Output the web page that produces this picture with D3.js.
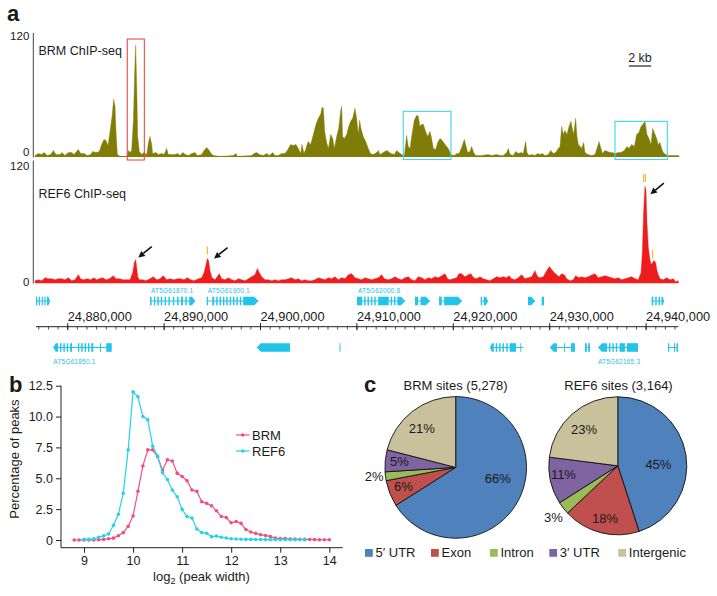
<!DOCTYPE html>
<html><head><meta charset="utf-8">
<script src="https://cdn.jsdelivr.net/npm/d3@7"></script>
<style>
body{margin:0;background:#fff}
svg{display:block}
text{font-family:"Liberation Sans",Arial,Helvetica,sans-serif;fill:#1a1a1a}
</style>
</head><body>
<svg id="c" width="717" height="596"></svg>
<script>
// ================= DATA =================
// Panel a: genomic positions are kb counted from 24,800,000 on chromosome 5
const regionOriginKb = 24800;
const trackRangeKb = [76.71, 143.34];
const trackMax = 120;

const brmPosKb = [76.61,76.95,77.30,77.54,77.89,78.23,78.51,78.79,79.20,79.41,79.69,80.07,80.41,80.65,81.10,81.34,81.69,82.04,82.38,82.59,82.93,83.28,83.52,83.76,83.97,84.18,84.39,84.60,84.77,84.91,85.01,85.15,85.43,86.12,86.29,86.46,86.63,86.81,86.95,87.05,87.16,87.26,87.43,87.67,87.91,88.19,88.40,88.54,88.71,88.81,89.16,89.40,89.75,89.99,90.27,90.44,90.78,91.13,91.41,91.65,91.93,92.20,92.55,92.86,93.21,93.45,93.90,94.14,94.42,94.69,94.86,95.11,95.80,97.18,97.46,97.60,99.08,99.33,99.60,99.88,100.29,100.64,100.92,101.26,101.50,101.85,102.20,102.54,102.78,103.13,103.40,103.68,103.92,104.17,104.30,104.51,104.72,104.93,105.20,105.48,105.76,106.00,106.24,106.38,106.52,106.66,106.86,107.04,107.28,107.49,107.66,107.90,108.11,108.32,108.42,108.52,108.70,108.94,109.15,109.35,109.56,
109.80,109.97,110.15,110.28,110.42,110.66,110.91,111.18,111.39,111.70,112.05,112.22,112.39,112.74,113.08,113.26,113.53,113.88,114.12,114.36,114.64,114.92,115.16,115.33,115.51,115.68,115.95,116.20,116.37,116.54,116.72,116.89,117.13,117.34,117.58,117.75,117.93,118.17,118.38,118.62,118.86,119.14,119.48,119.76,120.10,120.35,120.59,120.87,121.14,121.28,121.49,121.73,121.90,122.11,122.32,122.94,123.63,123.98,124.50,124.84,125.19,125.53,125.71,125.88,126.22,126.47,126.74,127.02,127.26,127.50,127.64,127.85,128.13,128.47,128.75,128.99,129.23,129.51,129.86,130.10,130.37,130.62,130.89,131.07,131.24,131.41,131.58,131.79,132.00,132.21,132.34,132.48,132.69,132.83,132.97,133.17,133.31,133.52,133.66,133.94,134.35,134.70,134.97,135.11,135.32,135.46,135.73,136.01,136.25,136.49,136.77,137.12,137.39,137.74,138.02,138.22,138.50,138.78,139.02,139.26,139.47,139.68,139.88,140.09,140.30,140.51,140.68,140.85,141.09,141.27,141.44,141.61,141.78,142.03,142.30,143.40];
const brmVal = [1,3,2,4,1,2,6,2,2,4,1,4,4,2,7,3,3,1,2,5,4,5,12,17,16,11,25,40,57,50,25,2,0,0,6,4,6,35,85,111,70,20,5,2,4,2,15,20,12,3,4,2,3,2,8,2,2,2,3,1,4,2,1,3,4,1,2,6,9,6,3,1,0,1,3,0,1,3,4,2,1,3,1,4,1,1,3,3,6,12,11,12,8,3,12,3,8,15,12,22,32,38,42,49,48,25,14,8,22,18,8,20,28,46,50,20,18,22,30,35,38,
48,38,22,36,28,20,15,8,3,2,4,6,2,4,6,5,3,2,6,4,2,1,21,10,8,20,36,41,40,30,32,32,25,20,25,18,8,7,14,18,16,12,8,2,1,3,3,9,17,12,4,5,10,4,1,1,2,1,2,1,1,4,8,2,1,5,3,4,3,15,4,1,2,1,3,2,3,1,2,6,3,4,8,10,30,22,26,22,30,35,28,22,38,20,12,10,8,14,4,2,1,2,10,15,8,3,6,5,4,4,3,4,4,6,10,8,12,10,22,24,30,32,35,22,18,12,28,24,18,12,14,8,4,2,1,1];

const ref6PosKb = [76.61,76.95,77.30,77.64,77.99,78.34,78.68,79.03,79.37,79.72,80.07,80.41,80.76,81.10,81.34,81.62,82.04,82.38,82.73,83.00,83.28,83.63,83.97,84.32,84.73,85.01,85.36,85.77,86.12,86.46,86.74,86.91,87.05,87.16,87.26,87.43,87.78,88.12,88.54,88.88,89.23,89.57,89.92,90.27,90.61,91.03,91.37,91.72,92.06,92.41,92.76,93.10,93.55,93.90,94.14,94.35,94.48,94.62,94.76,94.97,95.28,95.73,95.97,96.32,96.66,97.01,97.35,97.70,98.05,98.39,98.74,99.08,99.43,99.67,99.88,100.12,100.47,100.81,101.16,101.50,101.85,102.20,102.54,102.89,103.23,103.58,103.92,104.27,104.61,104.96,105.31,105.65,106.00,106.34,106.69,107.04,107.38,107.73,108.07,108.42,108.77,109.11,109.46,
109.80,110.15,110.49,110.84,111.18,111.53,111.87,112.22,112.57,112.84,113.26,113.60,113.95,114.30,114.64,114.99,115.33,115.68,116.02,116.37,116.72,117.06,117.41,117.75,118.10,118.44,118.79,119.14,119.41,119.65,120.00,120.35,120.59,120.87,121.21,121.56,121.83,122.11,122.42,122.77,123.11,123.46,123.80,124.15,124.50,124.84,125.19,125.53,125.78,126.05,126.40,126.74,127.09,127.43,127.78,128.13,128.47,128.75,128.99,129.34,129.68,129.96,130.20,130.48,130.72,130.96,131.24,131.51,131.76,132.10,132.45,132.69,133.04,133.31,133.66,134.00,134.42,134.70,135.04,135.39,135.73,136.08,136.42,136.77,137.12,137.46,137.81,138.15,138.50,138.85,139.19,139.47,139.61,139.74,139.88,139.99,140.09,140.23,140.37,140.51,140.68,140.82,140.99,141.13,141.27,141.44,141.78,142.13,142.48,142.82,143.06,143.34];
const ref6Val = [2,3,2,5,4,4,3,4,4,3,5,2,3,8,4,3,4,3,5,3,4,5,3,4,7,4,4,3,3,3,10,20,23,15,6,3,3,2,4,6,3,4,7,3,4,3,4,4,3,5,3,2,4,5,10,18,24,22,12,5,3,9,4,3,5,3,2,4,3,2,4,6,8,14,10,6,3,3,2,3,2,3,3,4,5,3,4,2,3,2,2,3,5,4,3,5,4,6,3,5,4,8,9,
5,4,3,5,4,3,4,5,8,4,3,4,6,4,3,5,6,3,2,6,5,3,5,4,6,5,7,9,4,3,4,5,9,9,6,8,9,5,4,6,4,3,2,4,6,5,6,5,7,4,3,5,8,4,5,6,12,6,5,6,12,16,13,10,8,6,9,8,4,2,3,7,5,6,5,6,8,9,5,6,7,6,5,4,5,3,4,5,6,4,3,10,30,70,96,92,60,35,25,18,20,22,20,12,8,4,3,5,3,4,1,2];

// highlighted windows in BRM track [startKb, endKb, topValue]
const brmRedBox = [86.18, 87.95, 117];
const brmCyanBoxes = [[114.81, 119.76, 45], [136.77, 142.20, 35]];
// REF6 peak arrows: tip [kb, value]
const ref6ArrowTips = [[87.32, 25], [95.18, 24], [140.44, 88]];
// REF6 orange peak-call marks [kb, lowValue, highValue]
const ref6Marks = [[94.48, 28, 36], [139.75, 100, 108], [139.92, 100, 108], [140.68, 24, 33]];

const rulerMajorKb = [80, 90, 100, 110, 120, 130, 140];
const rulerLabels = ["24,880,000","24,890,000","24,900,000","24,910,000","24,920,000","24,930,000","24,940,000"];

// gene models: row (top = + strand, bottom = - strand), exons in kb
const genes = [
  {row:"top", name:"", start:76.71, end:78.16, exons:[[76.71,76.85],[77.0,77.12],[77.3,77.42],[77.58,77.7],[77.85,78.16]]},
  {row:"top", name:"AT5G61870.1", start:88.54, end:93.21, exons:[[88.54,88.7],[88.95,89.08],[89.3,89.45],[89.65,89.8],[90.05,90.2],[90.45,90.6],[90.9,91.05],[91.35,91.5],[91.75,91.95],[92.2,92.35],[92.6,93.21]]},
  {row:"top", name:"AT5G61900.1", start:94.42, end:99.77, exons:[[94.42,94.55],[95.0,95.2],[95.4,95.55],[95.75,95.9],[96.1,96.25],[96.45,96.6],[96.8,96.95],[97.15,97.3],[97.5,97.65],[97.85,98.0],[98.2,99.77]]},
  {row:"top", name:"AT5G62000.8", start:110.01, end:114.99, exons:[[110.01,110.55],[110.75,110.9],[111.1,111.25],[111.45,111.6],[111.8,111.95],[112.2,113.3],[113.5,113.65],[113.85,114.0],[114.2,114.99]]},
  {row:"top", name:"", start:116.03, end:117.58, exons:[[116.03,116.35],[116.6,117.58]]},
  {row:"top", name:"", start:118.52, end:120.90, exons:[[118.52,118.8],[119.05,120.90]]},
  {row:"top", name:"", start:122.84, end:123.60, exons:[[122.84,122.98],[123.15,123.6]]},
  {row:"top", name:"", start:127.75, end:128.47, exons:[[127.75,128.47]]},
  {row:"top", name:"", start:129.17, end:129.41, exons:[[129.17,129.41]]},
  {row:"top", name:"", start:140.58, end:141.86, exons:[[140.58,140.75],[140.95,141.1],[141.3,141.45],[141.6,141.86]]},
  {row:"bottom", name:"AT5G61850.1", start:78.51, end:84.56, exons:[[78.51,79.0],[79.2,79.35],[79.55,79.7],[79.9,80.05],[80.25,80.45],[81.05,81.2],[81.4,81.55],[81.75,81.9],[82.1,82.25],[82.45,82.65],[83.35,83.45],[84.0,84.56]]},
  {row:"bottom", name:"", start:99.61, end:103.06, exons:[[99.61,103.06]]},
  {row:"bottom", name:"", start:108.2, end:108.26, exons:[[108.2,108.26]]},
  {row:"bottom", name:"", start:123.81, end:127.26, exons:[[123.81,124.2],[124.4,124.55],[124.75,124.9],[125.1,125.25],[125.5,125.65],[125.85,126.5],[126.95,127.0]]},
  {row:"bottom", name:"", start:130.03, end:132.62, exons:[[130.03,130.75],[131.5,131.6],[132.2,132.62]]},
  {row:"bottom", name:"", start:133.66, end:134.18, exons:[[133.66,133.85],[134.0,134.18]]},
  {row:"bottom", name:"AT5G62165.3", start:135.01, end:139.16, exons:[[135.01,135.95],[136.15,136.3],[136.5,136.65],[136.85,137.0],[137.25,137.8],[138.0,139.16]]},
  {row:"bottom", name:"", start:142.27, end:143.31, exons:[[142.27,142.4],[142.9,143.0],[143.15,143.31]]}
];

// Panel b
const log2Width = [8.8,8.9,9.0,9.1,9.2,9.3,9.4,9.5,9.6,9.7,9.8,9.9,10.0,10.1,10.2,10.3,10.4,10.5,10.6,10.7,10.8,10.9,11.0,11.1,11.2,11.3,11.4,11.5,11.6,11.7,11.8,11.9,12.0,12.1,12.2,12.3,12.4,12.5,12.6,12.7,12.8,12.9,13.0,13.1,13.2,13.3,13.4,13.5,13.6,13.7,13.8,13.9,14.0];
const brmPct = [0,0,0,0,0,0.02,0.05,0.1,0.15,0.35,0.6,1.1,1.95,3.95,6.0,7.3,7.3,6.75,5.65,6.5,6.4,5.4,5.15,4.8,4.05,3.95,3.1,2.97,2.78,2.37,1.9,1.82,1.4,1.5,1.35,0.85,0.65,0.54,0.42,0.37,0.28,0.15,0.12,0.12,0.08,0.08,0.06,0.05,0.04,0.03,0.02,0.02,0.02];
const ref6Pct = [null,null,0.05,0.05,0.1,0.22,0.34,0.48,1.2,2.08,3.78,7.3,12.0,11.6,10.0,9.75,7.6,6.8,5.45,4.9,4.05,3.5,2.48,1.9,1.78,0.9,0.6,0.55,0.27,0.32,0.22,0.16,0.1,0.08,0.06,0.05,0.05,0.04,0.04,0.03,0.03,0.02,0.02,0.02,0.02,0.02,0.02,0.02,null,null,null,null,null];
const bXTicks = [9,10,11,12,13,14];
const bYTicks = [0,2.5,5,7.5,10,12.5];

// Panel c
const pieCategories = ["5\u2032 UTR","Exon","Intron","3\u2032 UTR","Intergenic"];
const brmSitesPct = [66,6,2,5,21];
const ref6SitesPct = [45,18,3,11,23];
const pieTitles = ["BRM sites (5,278)","REF6 sites (3,164)"];

// ================= STYLE =================
const OLIVE = "#807c08", RED = "#ee1c1c", GENE = "#22c4ea";
const PINK = "#f0507f", CYAN = "#26d2ea";
const pieColors = ["#4f81bd","#c0504d","#9bbb59","#8064a2","#c9c19b"];

const svg = d3.select("#c");
svg.append("rect").attr("width",717).attr("height",596).attr("fill","#fff");

// ================= PANEL A =================
const gx = d3.scaleLinear().domain(trackRangeKb).range([36, 678.3]);
const brmY = d3.scaleLinear().domain([0, trackMax]).range([156.5, 36]);
const refY = d3.scaleLinear().domain([0, trackMax]).range([282.7, 162]);

svg.append("text").attr("x",7).attr("y",21).attr("font-size",22).attr("font-weight","bold").text("a");

function track(pos, vals, y, color, top, bottom, label, labelY, dyTop, dyZero) {
  const pts = pos.map((p,i)=>[p, vals[i]]);
  const area = d3.area().x(d=>gx(d[0])).y0(y(0)).y1(d=>y(d[1]));
  svg.append("path").attr("d", area(pts)).attr("fill", color).attr("stroke", color).attr("stroke-width",0.4);
  svg.append("line").attr("x1",gx(pos[0])).attr("x2",gx(pos[pos.length-1]))
    .attr("y1",y(0)).attr("y2",y(0)).attr("stroke",color).attr("stroke-width",1);
  const ax = svg.append("g").attr("transform","translate(33.3,0)")
    .call(d3.axisLeft(y).tickValues([0,trackMax]).tickSize(0).tickPadding(4).tickFormat(d3.format("d")));
  ax.select(".domain").attr("stroke","#444").attr("d",`M0,${top}V${bottom}`);
  ax.selectAll("text").attr("font-size",11.5).attr("fill","#1a1a1a")
    .attr("font-family",'"Liberation Sans",Arial,sans-serif');
  ax.selectAll(".tick").filter(d=>d===0).select("text").attr("transform",`translate(0,${dyZero})`);
  ax.selectAll(".tick").filter(d=>d===trackMax).select("text").attr("transform",`translate(0,${dyTop})`);
  svg.append("text").attr("x",38.5).attr("y",labelY).attr("font-size",12.5).text(label);
}
track(brmPosKb, brmVal, brmY, OLIVE, 33, 157.5, "BRM ChIP-seq", 55, 0, -4.5);
track(ref6PosKb, ref6Val, refY, RED, 160.5, 283.5, "REF6 ChIP-seq", 197.5, 4, -1);

// boxes
svg.append("rect").attr("x",gx(brmRedBox[0])).attr("y",brmY(brmRedBox[2]))
  .attr("width",gx(brmRedBox[1])-gx(brmRedBox[0])).attr("height",brmY(0)+3.5-brmY(brmRedBox[2]))
  .attr("fill","none").attr("stroke","#f04a4a").attr("stroke-width",1.1);
brmCyanBoxes.forEach(b=>{
  svg.append("rect").attr("x",gx(b[0])).attr("y",brmY(b[2]))
    .attr("width",gx(b[1])-gx(b[0])).attr("height",brmY(0)+3-brmY(b[2]))
    .attr("fill","none").attr("stroke","#3ad6f2").attr("stroke-width",1.1);
});

// scale bar 2 kb
{
  const cx = 640, w = gx(trackRangeKb[0]+2) - gx(trackRangeKb[0]);
  svg.append("line").attr("x1",cx-w/2-1.5).attr("x2",cx+w/2+1.5).attr("y1",66).attr("y2",66)
    .attr("stroke","#222").attr("stroke-width",1.2);
  svg.append("text").attr("x",cx).attr("y",61.5).attr("text-anchor","middle").attr("font-size",12.5).text("2 kb");
}

// arrows
ref6ArrowTips.forEach(t=>{
  const tx = gx(t[0]), ty = refY(t[1]);
  const sx = tx + 13.5, sy = ty - 11;
  const ang = Math.atan2(ty-sy, tx-sx);
  const L = 6.5, W = 3.2;
  const bx = tx - L*Math.cos(ang), by = ty - L*Math.sin(ang);
  svg.append("line").attr("x1",sx).attr("y1",sy).attr("x2",bx).attr("y2",by).attr("stroke","#111").attr("stroke-width",1.6);
  const px = -Math.sin(ang)*W, py = Math.cos(ang)*W;
  svg.append("polygon").attr("points",`${tx},${ty} ${bx+px},${by+py} ${bx-px},${by-py}`).attr("fill","#111");
});
ref6Marks.forEach(m=>{
  svg.append("line").attr("x1",gx(m[0])).attr("x2",gx(m[0])).attr("y1",refY(m[1])).attr("y2",refY(m[2]))
    .attr("stroke","#f5b22a").attr("stroke-width",1.1);
});

// ruler
{
  const ry = 326.7;
  svg.append("line").attr("x1",gx(trackRangeKb[0])).attr("x2",gx(trackRangeKb[1])).attr("y1",ry).attr("y2",ry)
    .attr("stroke","#222").attr("stroke-width",1);
  const minor = d3.range(Math.ceil(trackRangeKb[0]), Math.floor(trackRangeKb[1])+1);
  svg.append("g").selectAll("line").data(minor).join("line")
    .attr("x1",d=>gx(d)).attr("x2",d=>gx(d)).attr("y1",ry).attr("y2",ry+2.8).attr("stroke","#222").attr("stroke-width",0.8);
  svg.append("g").selectAll("line").data(rulerMajorKb).join("line")
    .attr("x1",d=>gx(d)).attr("x2",d=>gx(d)).attr("y1",ry-3.5).attr("y2",ry+3.5).attr("stroke","#222").attr("stroke-width",1);
  svg.append("g").selectAll("text").data(rulerMajorKb).join("text")
    .attr("x",d=>gx(d)).attr("y",321).attr("font-size",12.8).text((d,i)=>rulerLabels[i]);
}

// genes
{
  const rowY = {top:301, bottom:347.5};
  const h = 4.3;
  genes.forEach(g=>{
    const y = rowY[g.row];
    const gg = svg.append("g");
    gg.append("line").attr("x1",gx(g.start)).attr("x2",gx(g.end)).attr("y1",y).attr("y2",y)
      .attr("stroke",GENE).attr("stroke-width",1);
    g.exons.forEach((e,i)=>{
      const x0 = gx(e[0]), x1 = gx(e[1]);
      const isTip = g.row==="top" ? i===g.exons.length-1 : i===0;
      if (isTip && x1-x0 > 2.5) {
        const a = Math.min(4, (x1-x0)*0.5);
        const pts = g.row==="top"
          ? [[x0,y-h],[x1-a,y-h],[x1,y],[x1-a,y+h],[x0,y+h]]
          : [[x1,y-h],[x0+a,y-h],[x0,y],[x0+a,y+h],[x1,y+h]];
        gg.append("polygon").attr("points",pts.map(p=>p.join(",")).join(" ")).attr("fill",GENE);
      } else {
        gg.append("rect").attr("x",x0).attr("y",y-h).attr("width",Math.max(0.9,x1-x0)).attr("height",2*h).attr("fill",GENE);
      }
    });
    if (g.name) {
      gg.append("text").attr("x",gx(g.start)+(g.row==="top"?1:0))
        .attr("y", g.row==="top" ? y-8.5 : y+16)
        .attr("font-size",6.5).attr("font-family",'"DejaVu Sans Mono",monospace')
        .style("fill",GENE).attr("letter-spacing",0.2).text(g.name);
    }
  });
}

// ================= PANEL B =================
svg.append("text").attr("x",9).attr("y",392).attr("font-size",22).attr("font-weight","bold").text("b");
{
  const bX = d3.scaleLinear().domain([9,14]).range([84,329.3]);
  const bY = d3.scaleLinear().domain([0,12.5]).range([540,385.7]);
  const left = 61, bottom = 547.7, right = 342.7;
  const g = svg.append("g");
  g.append("path").attr("d",`M${left},${bY(12.5)}V${bottom}H${right}`).attr("fill","none").attr("stroke","#222").attr("stroke-width",1);
  const yAx = g.append("g").attr("transform",`translate(${left},0)`)
    .call(d3.axisLeft(bY).tickValues(bYTicks).tickSize(5).tickPadding(3).tickFormat(d=>d===0?"0":d3.format(".1f")(d)));
  yAx.select(".domain").remove();
  const xAx = g.append("g").attr("transform",`translate(0,${bottom})`)
    .call(d3.axisBottom(bX).tickValues(bXTicks).tickSize(5).tickPadding(3).tickFormat(d3.format("d")));
  xAx.select(".domain").remove();
  g.selectAll(".tick line").attr("stroke","#222");
  g.selectAll(".tick text").attr("font-size",12.5).attr("fill","#1a1a1a").attr("font-family",'"Liberation Sans",Arial,sans-serif');

  const series = [[brmPct, PINK],[ref6Pct, CYAN]];
  series.forEach(([vals,col])=>{
    const pts = log2Width.map((x,i)=>[x, vals[i]]);
    const line = d3.line().defined(d=>d[1]!==null).x(d=>bX(d[0])).y(d=>bY(d[1]));
    g.append("path").attr("d",line(pts)).attr("fill","none").attr("stroke",col).attr("stroke-width",1.2);
    g.append("g").selectAll("circle").data(pts.filter(d=>d[1]!==null)).join("circle")
      .attr("cx",d=>bX(d[0])).attr("cy",d=>bY(d[1])).attr("r",1.8).attr("fill",col);
  });
  // legend
  [["BRM",PINK,435],["REF6",CYAN,451]].forEach(([t,col,y])=>{
    g.append("line").attr("x1",236).attr("x2",249.5).attr("y1",y).attr("y2",y).attr("stroke",col).attr("stroke-width",1.2);
    g.append("circle").attr("cx",242.7).attr("cy",y).attr("r",1.8).attr("fill",col);
    g.append("text").attr("x",252).attr("y",y+4.6).attr("font-size",13).text(t);
  });
  // axis titles
  g.append("text").attr("transform","translate(19,459) rotate(-90)").attr("text-anchor","middle").attr("font-size",13).text("Percentage of peaks");
  const xt = g.append("text").attr("x",201.5).attr("y",581).attr("text-anchor","middle").attr("font-size",13);
  xt.append("tspan").text("log");
  xt.append("tspan").attr("font-size",9).attr("dy",3).text("2");
  xt.append("tspan").attr("dy",-3).text(" (peak width)");
}

// ================= PANEL C =================
svg.append("text").attr("x",364).attr("y",392).attr("font-size",22).attr("font-weight","bold").text("c");
{
  const pies = [
    {vals:brmSitesPct, cx:455.7, cy:467.4, r:70.8, tx:455.5,
     offs:[[42,11],[-52.4,19.4],[-81.5,9.4],[-56.4,-5.6],[-34,-39]]},
    {vals:ref6SitesPct, cx:617.8, cy:465.8, r:69, tx:618.5,
     offs:[[40.6,-1.4],[-12.7,52.6],[-64.4,52],[-54.4,8.6],[-33.7,-36.4]]}
  ];
  const pie = d3.pie().sort(null).value(d=>d);
  pies.forEach((p,k)=>{
    const arc = d3.arc().innerRadius(0).outerRadius(p.r);
    const g = svg.append("g").attr("transform",`translate(${p.cx},${p.cy})`);
    g.selectAll("path").data(pie(p.vals)).join("path")
      .attr("d",arc).attr("fill",(d,i)=>pieColors[i]).attr("stroke","#111").attr("stroke-width",0.9);
    g.selectAll("text").data(p.vals).join("text")
      .attr("x",(d,i)=>p.offs[i][0]).attr("y",(d,i)=>p.offs[i][1]).attr("dy","0.36em")
      .attr("text-anchor","middle").attr("font-size",13).text(d=>d+"%");
    svg.append("text").attr("x",p.tx).attr("y",389.5).attr("text-anchor","middle").attr("font-size",13).text(pieTitles[k]);
  });
  const legX = [365, 431, 490, 549.3, 618.3];
  pieCategories.forEach((c,i)=>{
    svg.append("rect").attr("x",legX[i]).attr("y",549).attr("width",7.8).attr("height",7.8).attr("fill",pieColors[i]);
    svg.append("text").attr("x",legX[i]+10.5).attr("y",557).attr("font-size",13).text(c);
  });
}
</script>
</body></html>
